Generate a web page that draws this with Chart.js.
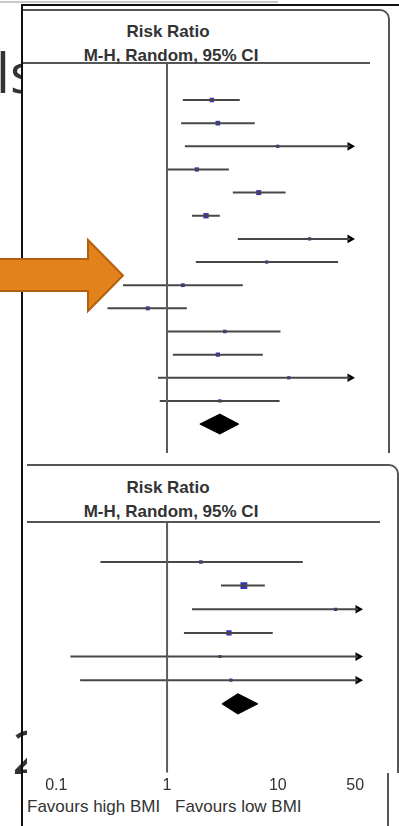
<!DOCTYPE html>
<html><head><meta charset="utf-8">
<script src="https://cdn.jsdelivr.net/npm/chart.js"></script>
<style>
html,body{margin:0;padding:0;background:#fff;width:399px;height:826px;overflow:hidden;position:relative;font-family:"Liberation Sans",Arial,sans-serif;}
.a{position:absolute;box-sizing:border-box;}
.hdr{font-weight:bold;font-size:17px;line-height:20px;color:#333;text-align:center;white-space:nowrap;}
.fav{font-size:17px;line-height:20px;color:#333;white-space:nowrap;}
.bgt{font-family:"Open Sans",sans-serif;color:#333;line-height:1;white-space:nowrap;}
</style></head><body>
<div class="a" style="left:0;top:1px;width:278px;height:2px;background:#c9c9c9;z-index:1"></div>
<div class="a bgt" style="left:-4px;top:44px;font-size:55px;z-index:1">ls</div>
<div class="a bgt" style="left:12px;top:721px;font-size:60px;z-index:1">2</div>

<div class="a" style="left:23px;top:9px;width:367px;height:444px;border-top:2px solid #555;border-right:2px solid #555;border-top-right-radius:10px;background:#fff;z-index:2"></div>
<div class="a" style="left:27px;top:464px;width:372px;height:309px;border-top:2px solid #555;border-right:2px solid #555;border-top-right-radius:10px;background:#fff;z-index:2"></div>
<div class="a" style="left:23px;top:773px;width:366px;height:53px;border-right:2px solid #555;background:#fff;z-index:2"></div>

<div class="a" style="left:21px;top:4px;width:378px;height:2px;background:#111;z-index:3"></div>
<div class="a" style="left:21px;top:4px;width:2px;height:822px;background:#111;z-index:3"></div>
<div class="a" style="left:23px;top:62px;width:347px;height:2px;background:#555;z-index:3"></div>
<div class="a" style="left:27px;top:521px;width:353px;height:2px;background:#555;z-index:3"></div>

<div class="a hdr" style="left:0;top:22px;width:336px;z-index:3">Risk Ratio</div>
<div class="a hdr" style="left:0;top:46px;width:342px;z-index:3">M-H, Random, 95% CI</div>
<div class="a hdr" style="left:0;top:478px;width:336px;z-index:3">Risk Ratio</div>
<div class="a hdr" style="left:0;top:502px;width:342px;z-index:3">M-H, Random, 95% CI</div>
<div class="a fav" style="left:27px;top:797px;z-index:3">Favours high BMI</div>
<div class="a fav" style="left:175px;top:797px;z-index:3">Favours low BMI</div>

<canvas id="topChart" class="a" width="366" height="389" style="left:23px;top:64px;width:366px;height:389px;z-index:4"></canvas>
<canvas id="botChart" class="a" width="375" height="303" style="left:23px;top:523px;width:375px;height:303px;z-index:4"></canvas>

<svg class="a" style="left:0;top:230px;z-index:5" width="130" height="90" viewBox="0 230 130 90">
<polygon points="-3,259 88,259 88,240 123,275.5 88,311 88,291 -3,291" fill="#E3811B" stroke="#B3600E" stroke-width="2" stroke-linejoin="miter"/>
</svg>

<script>
// ---- data: upper panel ----
const topRR     = [2.54, 2.88, 10.0, 1.86, 6.74, 2.25, 19.4, 7.95, 1.39, 0.67, 3.33, 2.88, 12.6, 3.00];
const topLower  = [1.39, 1.34, 1.45, 0.98, 3.93, 1.68, 4.36, 1.82, 0.40, 0.29, 1.02, 1.13, 0.83, 0.86];
const topUpper  = [4.54, 6.20, 70.0, 3.62, 11.8, 3.00, 90.0, 35.1, 4.84, 1.51, 10.6, 7.33, 120, 10.4];
const topWeight = [9, 10, 4, 8, 12, 14, 4, 4, 6, 7, 5, 8, 4, 4];
const topPooledRR = 3.0;
const topPooledCI = [1.98, 4.45];
// ---- data: lower panel ----
const botRR     = [2.02, 4.94, 33.3, 3.62, 3.00, 3.77];
const botLower  = [0.25, 3.07, 1.68, 1.42, 0.134, 0.164];
const botUpper  = [16.8, 7.64, 150, 9.00, 200, 180];
const botWeight = [5, 25, 4, 14, 3, 4];
const botPooledRR = 4.36;
const botPooledCI = [3.13, 6.60];
// ---- axis ----
const axisTicks = [0.1, 1, 10, 50];
const axisTickLabels = ['0.1', '1', '10', '50'];
const nullValue = 1;

const X_MIN = 0.05, TOP_X_MAX = 45, BOT_X_MAX = 53;
const DH = 0.43;

function datasets(rr, lo, hi, w, pRR, pCI, xMax, yMin, yMax) {
  const rows = rr.map((_, i) => i + 1);
  const pr = rr.length + 1;
  const ci = [];
  rows.forEach((r, i) => { ci.push({x: lo[i], y: r}, {x: hi[i], y: r}, {x: null, y: null}); });
  const arrows = rows.filter((r, i) => hi[i] > xMax).map(r => ({x: xMax, y: r}));
  return [
    {type:'line', data:[{x:nullValue,y:yMin},{x:nullValue,y:yMax}], borderColor:'#5c5c5c', borderWidth:2, pointRadius:0, fill:false},
    {type:'line', data:ci, borderColor:'#474747', borderWidth:2, pointRadius:0, spanGaps:false, fill:false},
    {type:'scatter', data:rows.map((r,i)=>({x:rr[i], y:r})), pointStyle:'rect', pointRadius:w.map(v=>0.6+0.85*Math.sqrt(v)), backgroundColor:'#3434b4', borderWidth:0},
    {type:'scatter', data:arrows, pointStyle:'triangle', rotation:90, pointRadius:5, backgroundColor:'#000', borderColor:'#000', borderWidth:0, clip:false},
    {type:'line', data:[{x:pCI[0],y:pr},{x:pRR,y:pr-DH},{x:pCI[1],y:pr}], borderColor:'#000', borderWidth:1, pointRadius:0, fill:false, tension:0},
    {type:'line', data:[{x:pCI[0],y:pr},{x:pRR,y:pr+DH},{x:pCI[1],y:pr}], borderColor:'#000', borderWidth:1, pointRadius:0, fill:'-1', backgroundColor:'#000', tension:0}
  ];
}

const common = {
  responsive:false, animation:false, devicePixelRatio:1, events:[],
  plugins:{legend:{display:false}, tooltip:{enabled:false}}
};

const tYMin = -0.556, tYMax = 16.25;
new Chart(document.getElementById('topChart'), {
  type:'scatter',
  data:{datasets:datasets(topRR, topLower, topUpper, topWeight, topPooledRR, topPooledCI, TOP_X_MAX, tYMin, tYMax)},
  options:Object.assign({}, common, {
    layout:{autoPadding:false, padding:{left:0, right:39, top:0, bottom:0}},
    scales:{
      x:{type:'logarithmic', min:X_MIN, max:TOP_X_MAX, bounds:'data', display:false},
      y:{type:'linear', min:tYMin, max:tYMax, reverse:true, display:false}
    }
  })
});

const bYMin = -0.648, bYMax = 9.915;
new Chart(document.getElementById('botChart'), {
  type:'scatter',
  data:{datasets:datasets(botRR, botLower, botUpper, botWeight, botPooledRR, botPooledCI, BOT_X_MAX, bYMin, bYMax)},
  options:Object.assign({}, common, {
    layout:{autoPadding:false, padding:{left:0, right:40, top:0, bottom:28}},
    scales:{
      x:{type:'logarithmic', min:X_MIN, max:BOT_X_MAX, bounds:'data',
         grid:{display:false, drawTicks:false}, border:{display:false},
         afterBuildTicks:(s)=>{ s.ticks = axisTicks.map(v=>({value:v})); },
         ticks:{autoSkip:false, maxRotation:0, padding:3, color:'#333',
                font:{family:'Liberation Sans', size:16},
                callback:(v)=>{ const i = axisTicks.indexOf(v); return i>=0 ? axisTickLabels[i] : ''; }}},
      y:{type:'linear', min:bYMin, max:bYMax, reverse:true, display:false}
    }
  })
});
</script>
</body></html>
